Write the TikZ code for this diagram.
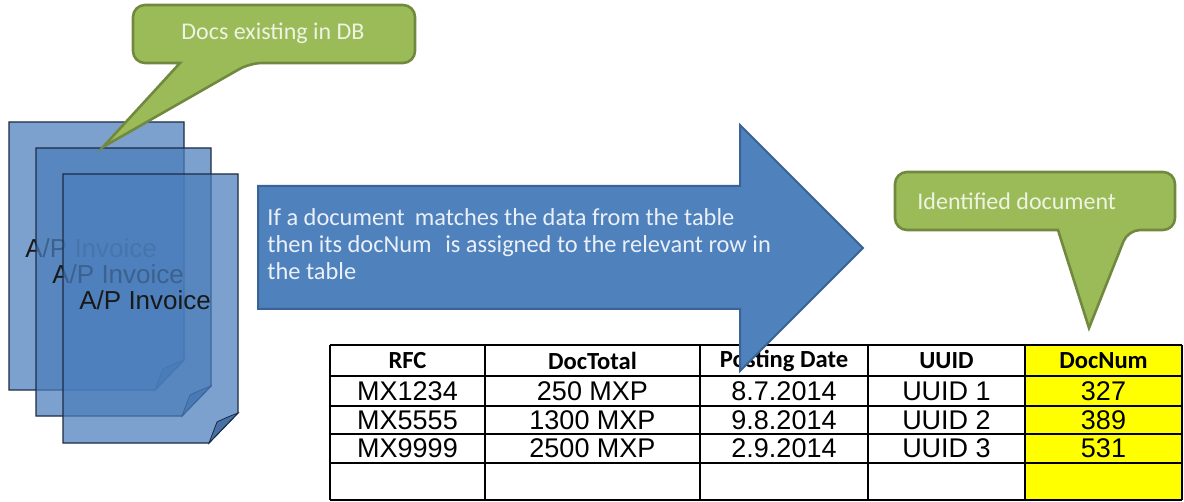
\documentclass[tikz,border=0pt]{standalone}
\usepackage{fontspec}
\setmainfont{Liberation Sans}
\newfontfamily\calibri{Carlito}

\definecolor{pagefill}{HTML}{4A7DBB}
\definecolor{pageline}{HTML}{1C2A44}
\definecolor{foldfill}{HTML}{3F6A9F}
\definecolor{arrowfill}{HTML}{4F81BD}
\definecolor{arrowline}{HTML}{3A6396}
\definecolor{calloutfill}{HTML}{9BBB59}
\definecolor{calloutline}{HTML}{71893F}
\definecolor{callouttext}{HTML}{EEF3E2}
\definecolor{arrowtext}{HTML}{EAF0F8}
\definecolor{cellyellow}{HTML}{FFFF00}

\tikzset{
  docpage/.style={fill=pagefill, fill opacity=0.72, draw=pageline, line width=0.6pt, line join=miter},
  docfold/.style={fill=foldfill, fill opacity=0.85, draw=pageline, line width=0.4pt},
  pagetext/.style={inner sep=0pt, text=black!90, font=\fontsize{13pt}{15pt}\selectfont},
  bigarrow/.style={fill=arrowfill, draw=arrowline, line width=1pt, line join=miter},
  callout/.style={fill=calloutfill, draw=calloutline, line width=1.3pt},
  callouttxt/.style={inner sep=0pt, text=callouttext, font=\calibri\fontsize{12pt}{14pt}\selectfont},
  arrowtxt/.style={inner sep=0pt, text=arrowtext, align=left, font=\calibri\fontsize{12.2pt}{13.6pt}\selectfont},
  gridline/.style={draw=black, line width=0.8pt},
  headcell/.style={inner sep=0pt, font=\calibri\bfseries\fontsize{12.3pt}{14pt}\selectfont},
  datacell/.style={inner sep=0pt, font=\fontsize{13.5pt}{15pt}\selectfont}
}

\begin{document}
\begin{tikzpicture}[x=0.5pt,y=-0.5pt]
\useasboundingbox (0,0) rectangle (1184,502);

% stack of invoice pages with curled corners, each followed by its label
\foreach \x/\y/\X/\Y/\n in {9/122/184/390/1, 36/148/211/416/2, 63/174/238/443/3} {
  \path[docpage] (\x,\y) -- (\X,\y) -- (\X,\Y-30) -- (\X-29,\Y) -- (\x,\Y) -- cycle;
  \path[docfold] (\X,\Y-30) .. controls (\X-8,\Y-27) and (\X-15,\Y-24) .. (\X-21,\Y-21) -- (\X-29,\Y) -- cycle;
  \node[pagetext, anchor=west] (inv\n) at (\x+16,\y+126) {A/P Invoice};
}

% result table
\fill[cellyellow] (1025,345) rectangle (1182,500);
\foreach \r in {345,376,406,434,463,500}
  \draw[gridline] (330,\r) -- (1182,\r);
\foreach \c in {330,485,700,868,1025,1182}
  \draw[gridline] (\c,345) -- (\c,500);

\foreach \cx/\txt/\k in {407.5/RFC/1, 592.5/DocTotal/2, 784/Posting Date/3, 946.5/UUID/4, 1103.5/DocNum/5}
  \node[headcell] (h\k) at (\cx,361) {\txt};

\foreach \cy/\a/\b/\c/\d/\e/\k in {391/MX1234/250 MXP/8.7.2014/UUID 1/327/1,
                                 420/MX5555/1300 MXP/9.8.2014/UUID 2/389/2,
                                 448/MX9999/2500 MXP/2.9.2014/UUID 3/531/3} {
  \node[datacell] (r\k a) at (407.5,\cy) {\a};
  \node[datacell] (r\k b) at (592.5,\cy) {\b};
  \node[datacell] (r\k c) at (784,\cy) {\c};
  \node[datacell] (r\k d) at (946.5,\cy) {\d};
  \node[datacell] (r\k e) at (1103.5,\cy) {\e};
}

% block arrow carrying the matching rule
\path[bigarrow] (258,186) -- (740,186) -- (740,125) -- (863,248) -- (740,371)
  -- (740,309) -- (258,309) -- cycle;
\node[arrowtxt, anchor=west] (rule) at (267,244)
  {If a document\hspace{5pt}matches the data from the table\\
   then its docNum\hspace{4pt} is assigned to the relevant row in\\
   the table};

% callouts
\path[callout] (103,147) -- (180,63) [rounded corners=6pt] -- (133,63) -- (133,5)
  -- (415,5) -- (415,63) -- (250,63) [sharp corners] -- cycle;
\node[callouttxt] (dbnote) at (273,33) {Docs existing in DB};

\path[callout] (1089,328) -- (1058,230) [rounded corners=6pt] -- (895,230) -- (895,172)
  -- (1175,172) -- (1175,230) -- (1128,230) [sharp corners] -- cycle;
\node[callouttxt, anchor=west] (idnote) at (917,201) {Identified document};
\end{tikzpicture}
\end{document}
